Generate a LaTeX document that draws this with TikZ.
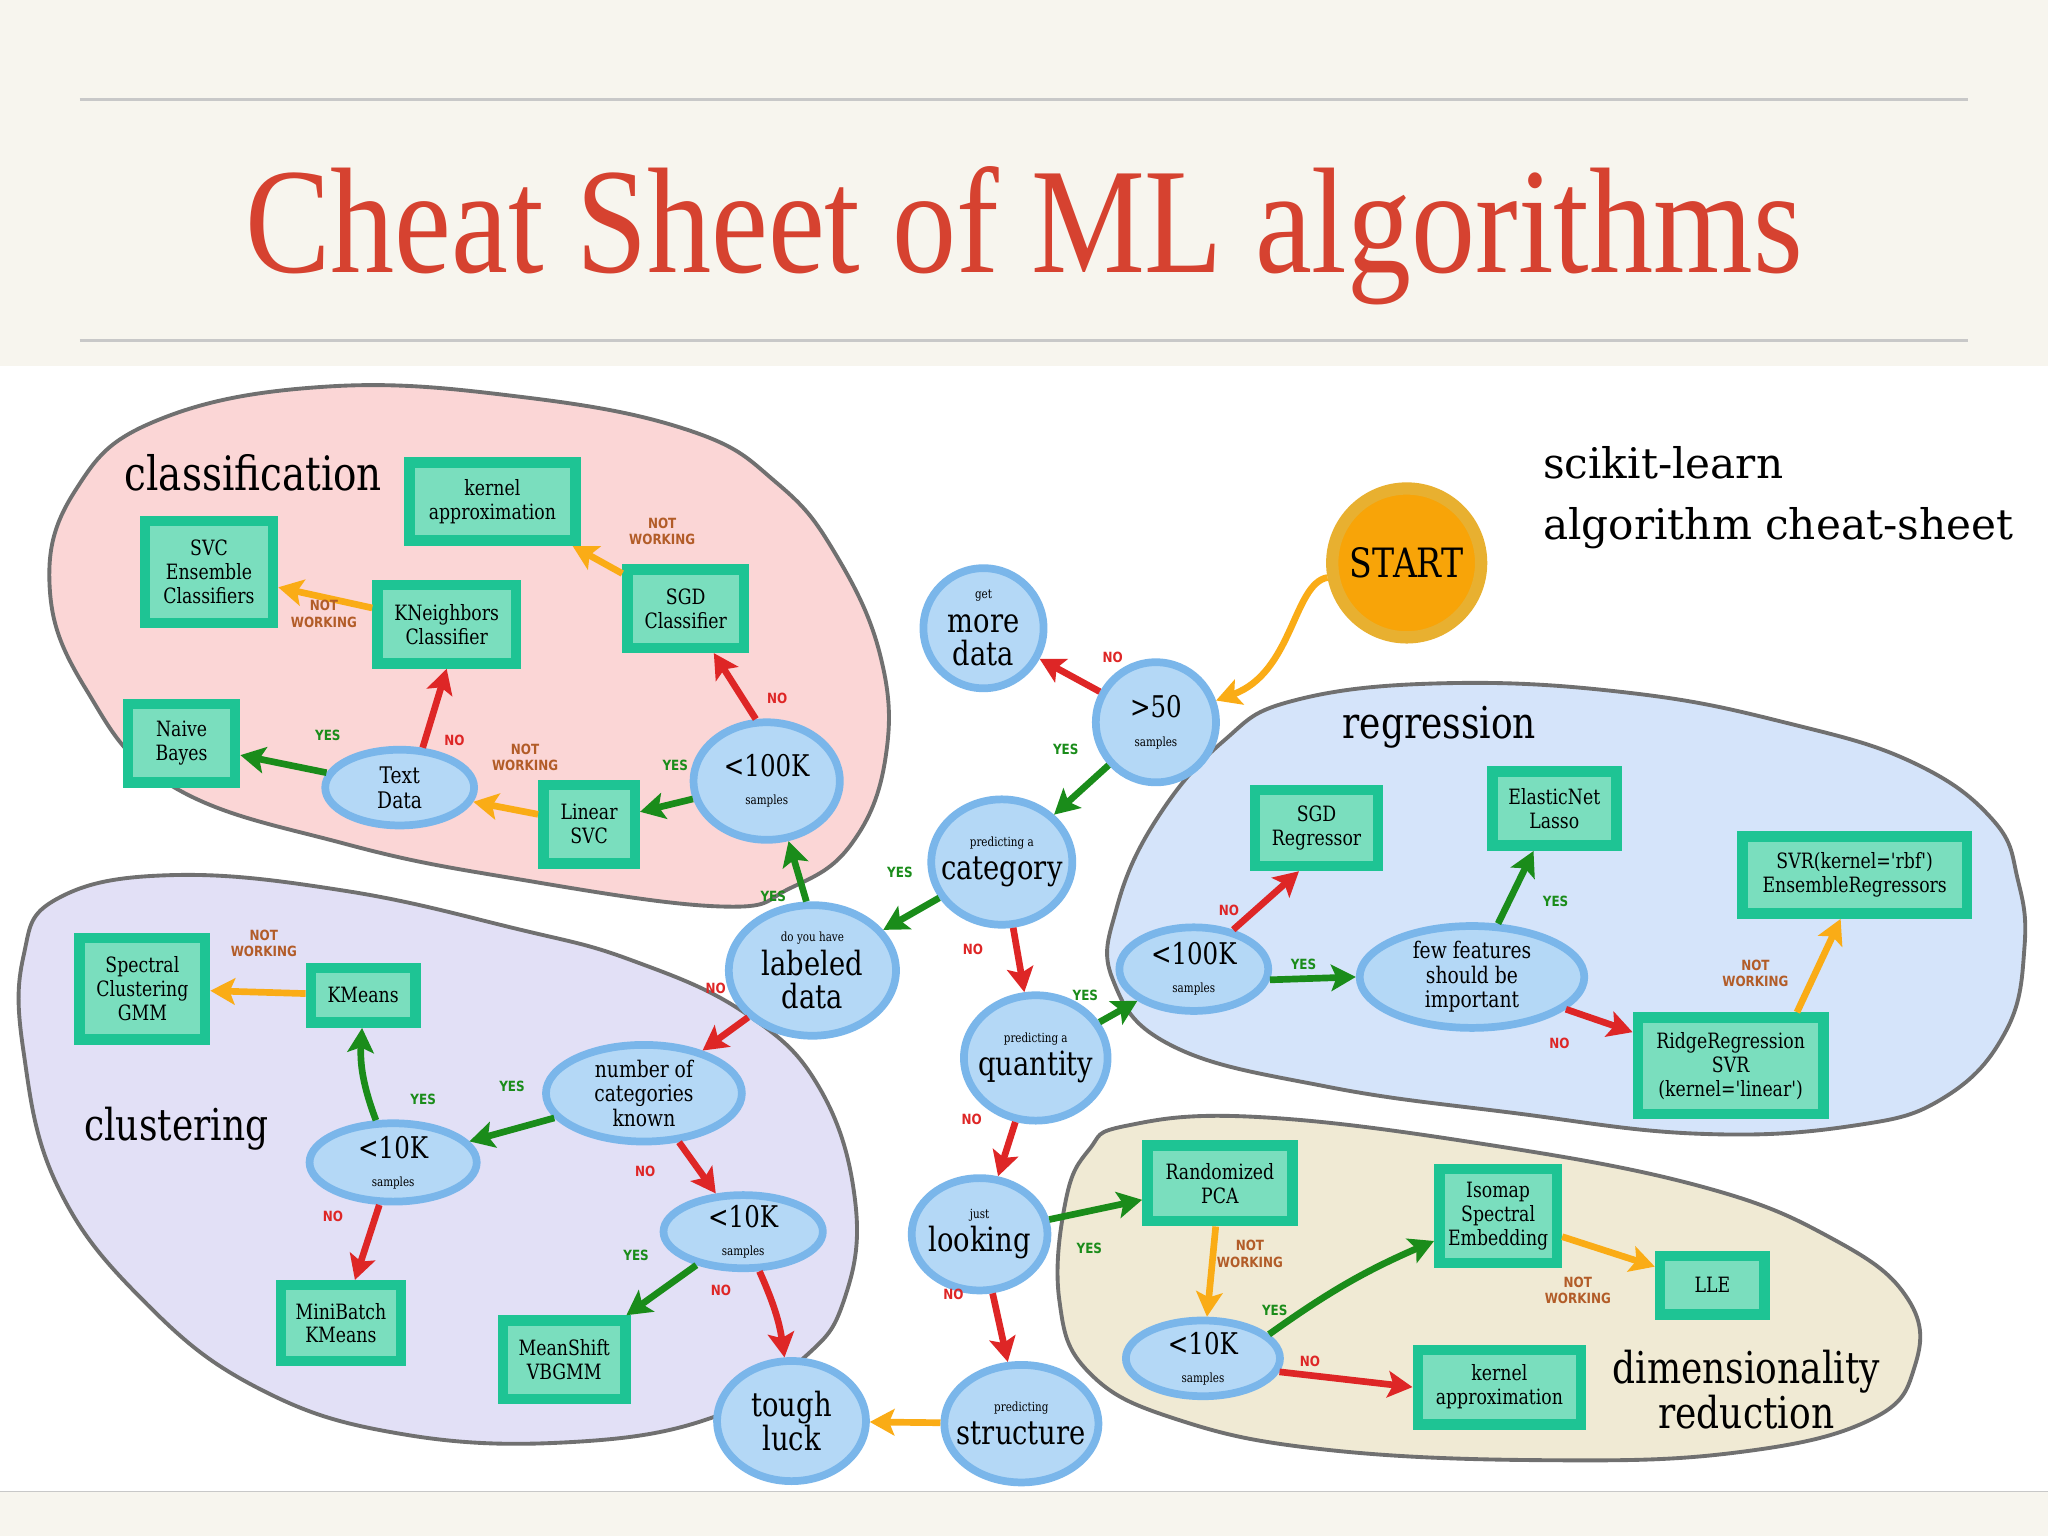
\documentclass[tikz,border=0pt]{standalone}
\usepackage{fontspec}
\usepackage{graphicx}
\setmainfont{DejaVu Serif}
\newfontfamily\condfont{DejaVu Serif}[FakeStretch=0.82]
\newfontfamily\lblfont{DejaVu Sans}[FakeStretch=0.85]
\newfontfamily\titlefont{Liberation Serif}
\usetikzlibrary{shapes.geometric,arrows.meta}

\definecolor{bgbeige}{RGB}{247,245,238}
\definecolor{titlered}{RGB}{214,66,48}
\definecolor{rulegray}{RGB}{200,200,200}
\definecolor{clsfill}{RGB}{251,214,214}
\definecolor{clufill}{RGB}{226,224,246}
\definecolor{regfill}{RGB}{213,228,250}
\definecolor{dimfill}{RGB}{240,234,212}
\definecolor{blobline}{RGB}{112,112,112}
\definecolor{circfill}{RGB}{180,216,246}
\definecolor{circline}{RGB}{122,182,234}
\definecolor{boxfill}{RGB}{122,222,190}
\definecolor{boxline}{RGB}{30,196,148}
\definecolor{startfill}{RGB}{248,164,8}
\definecolor{startline}{RGB}{232,176,48}
\definecolor{yesgreen}{RGB}{26,140,26}
\definecolor{nored}{RGB}{222,38,38}
\definecolor{nworange}{RGB}{250,172,22}
\definecolor{nwbrown}{RGB}{178,92,40}

\newcommand\smalltxt[1]{{\fontsize{3.6}{3.6}\selectfont #1}}

\tikzset{
  sz/.style 2 args={minimum width=#1*0.3716pt, minimum height=#2*0.3716pt},
  blob/.style={draw=blobline, line width=1.1pt},
  qnode/.style={ellipse, draw=circline, fill=circfill, line width=2.2pt,
    inner sep=-4pt, align=center, font=\condfont\fontsize{9.5}{9.5}\selectfont},
  numnode/.style={qnode, font=\condfont\fontsize{8.5}{8}\selectfont},
  txtnode/.style={qnode, font=\condfont\fontsize{6.5}{7}\selectfont},
  startnode/.style={circle, draw=startline, fill=startfill, line width=3.5pt,
    inner sep=0pt, font=\condfont\fontsize{11.5}{12}\selectfont},
  algo/.style={rectangle, draw=boxline, fill=boxfill, line width=3pt,
    inner sep=0pt, align=center, font=\condfont\fontsize{6}{6.8}\selectfont},
  arr/.style={line width=1.9pt, -{Stealth[length=7pt,width=7.5pt,inset=1.5pt]}},
  yesarr/.style={arr, draw=yesgreen},
  noarr/.style={arr, draw=nored},
  nwarr/.style={arr, draw=nworange},
  yeslbl/.style={text=yesgreen, font=\lblfont\bfseries\fontsize{4}{4.3}\selectfont},
  nolbl/.style={text=nored, font=\lblfont\bfseries\fontsize{4}{4.3}\selectfont},
  nwlbl/.style={text=nwbrown, align=center, font=\lblfont\bfseries\fontsize{4}{4.6}\selectfont},
  grouplbl/.style={font=\condfont\fontsize{12.5}{13}\selectfont},
}

\begin{document}
\begin{tikzpicture}[x=0.013061cm, y=-0.013061cm]
\useasboundingbox (0,0) rectangle (1568,1176);

% page background and title
\fill[bgbeige] (0,0) rectangle (1568,280);
\fill[white] (0,280) rectangle (1568,1142);
\fill[bgbeige] (0,1142) rectangle (1568,1176);
\draw[rulegray, line width=0.4pt] (0,1142) -- (1568,1142);
\draw[rulegray, line width=0.8pt] (61,76) -- (1507,76);
\draw[rulegray, line width=0.8pt] (61,261) -- (1507,261);
\node (title) [anchor=base, inner sep=0pt, text=titlered] at (784,209)
  {\resizebox{15.57cm}{1.06cm}{\titlefont Cheat Sheet of ML algorithms}};

% the four regions
\filldraw[blob, fill=clsfill] plot[smooth cycle, tension=0.7] coordinates {
  (250,296) (400,304) (529,330) (595,370) (639,423) (674,502) (678,580)
  (652,646) (605,680) (551,694) (396,673) (264,646) (132,602) (66,528)
  (38,449) (58,375) (120,322)};
\filldraw[blob, fill=clufill] plot[smooth cycle, tension=0.7] coordinates {
  (44,688) (132,670) (264,682) (395,711) (483,735) (571,776) (628,834)
  (655,922) (646,996) (615,1040) (549,1084) (439,1104) (308,1098)
  (198,1063) (110,996) (44,908) (18,805) (18,732)};
\filldraw[blob, fill=regfill] plot[smooth cycle, tension=0.7] coordinates {
  (992,536) (1111,523) (1252,531) (1370,554) (1465,584) (1526,628)
  (1545,674) (1550,725) (1536,789) (1489,840) (1418,862) (1300,868)
  (1158,852) (1016,832) (898,801) (852,750) (855,695) (885,628) (936,568)};
\filldraw[blob, fill=dimfill] plot[smooth cycle, tension=0.7] coordinates {
  (862,862) (959,855) (1130,875) (1301,908) (1404,949) (1461,995)
  (1466,1046) (1432,1087) (1330,1112) (1187,1118) (1016,1110) (902,1087)
  (834,1051) (811,995) (816,919) (834,880)};

\node[grouplbl, font=\condfont\fontsize{13.5}{14}\selectfont] (clslbl) at (194,362) {classification};
\node[grouplbl] (clulbl) at (135,864) {clustering};
\node[grouplbl] (reglbl) at (1102,557) {regression};
\node[grouplbl, align=center] (dimlbl) at (1337,1064) {dimensionality\\reduction};
\node[anchor=west, align=left, inner sep=0pt, font=\fontsize{12}{17.5}\selectfont] (sklbl) at (1181,381)
  {scikit-learn\\algorithm cheat-sheet};

% questions
\node[startnode, sz={114}{114}] (start) at (1077,431) {START};
\node[qnode, sz={92}{92}] (more) at (753,481) {\smalltxt{get}\\more\\data};
\node[numnode, sz={92}{92}] (gt50) at (885,553) {>50\\\smalltxt{samples}};
\node[qnode, sz={108}{96}] (cat) at (767,660) {\smalltxt{predicting a}\\category};
\node[qnode, sz={128}{100}] (lab) at (622,743) {\smalltxt{do you have}\\labeled\\data};
\node[qnode, sz={110}{96}] (qty) at (793,810) {\smalltxt{predicting a}\\quantity};
\node[qnode, sz={104}{86}] (look) at (750,945) {\smalltxt{just}\\looking};
\node[qnode, sz={118}{90}] (struc) at (782,1090) {\smalltxt{predicting}\\structure};
\node[qnode, sz={114}{92}] (tough) at (606,1088) {tough\\luck};

% classification
\node[numnode, sz={112}{90}] (cls100) at (587,598) {<100K\\\smalltxt{samples}};
\node[txtnode, sz={114}{58}] (txt) at (306,603) {Text\\Data};
\node[algo, sz={70}{60}] (lsvc) at (451,631) {Linear\\SVC};
\node[algo, sz={82}{60}] (nb) at (139,569) {Naive\\Bayes};
\node[algo, sz={106}{60}] (knn) at (342,478) {KNeighbors\\Classifier};
\node[algo, sz={98}{78}] (svce) at (160,438) {SVC\\Ensemble\\Classifiers};
\node[algo, sz={89}{60}] (sgdc) at (525,466) {SGD\\Classifier};
\node[algo, sz={127}{60}] (kac) at (377,384) {kernel\\approximation};

% clustering
\node[txtnode, sz={150}{74}] (ncat) at (493,837) {number of\\categories\\known};
\node[numnode, sz={128}{60}] (clu10a) at (301,890) {<10K\\\smalltxt{samples}};
\node[numnode, sz={122}{56}] (clu10b) at (569,943) {<10K\\\smalltxt{samples}};
\node[algo, sz={80}{42}] (km) at (278,762) {KMeans};
\node[algo, sz={96}{78}] (spec) at (109,757) {Spectral\\Clustering\\GMM};
\node[algo, sz={92}{58}] (mbk) at (261,1013) {MiniBatch\\KMeans};
\node[algo, sz={94}{60}] (msh) at (432,1041) {MeanShift\\VBGMM};

% regression
\node[numnode, sz={114}{64}] (reg100) at (914,742) {<100K\\\smalltxt{samples}};
\node[txtnode, sz={172}{78}] (few) at (1127,748) {few features\\should be\\important};
\node[algo, sz={94}{58}] (sgdr) at (1008,634) {SGD\\Regressor};
\node[algo, sz={95}{57}] (enet) at (1190,619) {ElasticNet\\Lasso};
\node[algo, sz={172}{59}] (svr) at (1420,670) {SVR(kernel='rbf')\\EnsembleRegressors};
\node[algo, sz={142}{74}] (ridge) at (1325,816) {RidgeRegression\\SVR\\(kernel='linear')};

% dimensionality reduction
\node[algo, sz={111}{58}] (rpca) at (934,906) {Randomized\\PCA};
\node[numnode, sz={118}{58}] (dim10) at (921,1040) {<10K\\\smalltxt{samples}};
\node[algo, sz={90}{72}] (iso) at (1147,931) {Isomap\\Spectral\\Embedding};
\node[algo, sz={80}{45}] (lle) at (1311,984) {LLE};
\node[algo, sz={125}{57}] (kad) at (1148,1062) {kernel\\approximation};

% connectors
\draw[nwarr] (start) .. controls (990,447) and (990,515) .. (gt50);
\draw[noarr] (gt50) -- (more);
\draw[yesarr] (gt50) -- (cat);
\draw[yesarr] (cat) -- (lab);
\draw[noarr] (cat) -- (qty);
\draw[yesarr] (lab.95) -- (cls100.290);
\draw[noarr] (lab) -- (ncat);
\draw[yesarr] (qty) -- (reg100);
\draw[noarr] (qty) -- (look);
\draw[yesarr] (look) -- (rpca);
\draw[noarr] (look) -- (struc);
\draw[nwarr] (struc) -- (tough);

\draw[noarr] (cls100.100) -- ([xshift=8pt]sgdc.south);
\draw[yesarr] (cls100) -- (lsvc);
\draw[nwarr] (lsvc) -- (txt);
\draw[yesarr] (txt) -- (nb);
\draw[noarr] (txt.60) -- (knn.south);
\draw[nwarr] (knn) -- (svce);
\draw[nwarr] (sgdc) -- (kac);

\draw[yesarr] (ncat) -- (clu10a);
\draw[noarr] (ncat) -- (clu10b);
\draw[yesarr] (clu10a) to[bend left=12] (km);
\draw[noarr] (clu10a) -- (mbk);
\draw[nwarr] (km) -- (spec);
\draw[yesarr] (clu10b) -- (msh);
\draw[noarr] (clu10b) to[bend left=8] (tough);

\draw[noarr] (reg100.45) -- ([xshift=-5pt]sgdr.south);
\draw[yesarr] (reg100.-8) -- (few.west);
\draw[yesarr] (few) -- (enet);
\draw[noarr] (few) -- (ridge);
\draw[nwarr] ([xshift=-9pt]ridge.north east) -- ([xshift=-4pt]svr.south);

\draw[nwarr] (rpca) -- (dim10);
\draw[yesarr] (dim10.20) to[bend left=6] (iso);
\draw[noarr] (dim10.-10) -- (kad.west);
\draw[nwarr] (iso) -- (lle);

% answers
\node[nolbl] (a1) at (852,503) {NO};
\node[yeslbl] (a2) at (816,574) {YES};
\node[yeslbl] (a3) at (689,668) {YES};
\node[nolbl] (a4) at (745,727) {NO};
\node[yeslbl] (a5) at (592,686) {YES};
\node[nolbl] (a6) at (548,757) {NO};
\node[yeslbl] (a7) at (831,762) {YES};
\node[nolbl] (a8) at (744,857) {NO};
\node[yeslbl] (a9) at (834,956) {YES};
\node[nolbl] (a10) at (730,991) {NO};
\node[nolbl] (a11) at (595,535) {NO};
\node[yeslbl] (a12) at (517,586) {YES};
\node[nwlbl] (a13) at (402,580) {NOT\\WORKING};
\node[yeslbl] (a14) at (251,563) {YES};
\node[nolbl] (a15) at (348,567) {NO};
\node[nwlbl] (a16) at (248,470) {NOT\\WORKING};
\node[nwlbl] (a17) at (507,407) {NOT\\WORKING};
\node[yeslbl] (a18) at (392,832) {YES};
\node[nolbl] (a19) at (494,897) {NO};
\node[yeslbl] (a20) at (324,842) {YES};
\node[nolbl] (a21) at (255,931) {NO};
\node[nwlbl] (a22) at (202,722) {NOT\\WORKING};
\node[yeslbl] (a23) at (487,961) {YES};
\node[nolbl] (a24) at (552,988) {NO};
\node[nolbl] (a25) at (941,697) {NO};
\node[yeslbl] (a26) at (998,738) {YES};
\node[yeslbl] (a27) at (1191,690) {YES};
\node[nolbl] (a28) at (1194,799) {NO};
\node[nwlbl] (a29) at (1344,745) {NOT\\WORKING};
\node[nwlbl] (a30) at (957,960) {NOT\\WORKING};
\node[yeslbl] (a31) at (976,1003) {YES};
\node[nolbl] (a32) at (1003,1042) {NO};
\node[nwlbl] (a33) at (1208,988) {NOT\\WORKING};

\end{tikzpicture}
\end{document}
